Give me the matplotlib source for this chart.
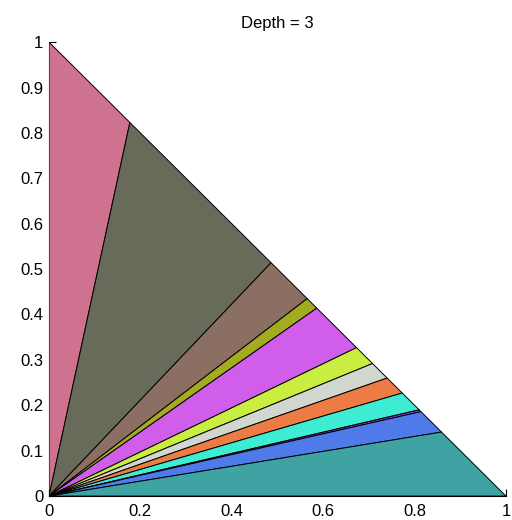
import numpy as np
import matplotlib.pyplot as plt
from matplotlib.patches import Polygon

# x position on the hypotenuse where each wedge ends (y = 1 - x)
split_x = [0.0, 0.177, 0.486, 0.565, 0.586, 0.673, 0.708, 0.740, 0.773, 0.810, 0.814, 0.859, 1.0]
wedge_colors = [
    '#cf728f', '#686a5a', '#8b6f62', '#a3ab1f', '#d05eea', '#c9ee41',
    '#d1d6cf', '#ec7c43', '#3eebd3', '#8c3ce6', '#4f7ae9', '#3ea3a2',
]
xticks = [0, 0.2, 0.4, 0.6, 0.8, 1]
yticks = [0, 0.1, 0.2, 0.3, 0.4, 0.5, 0.6, 0.7, 0.8, 0.9, 1]

plt.rcParams['font.family'] = ['Liberation Sans', 'DejaVu Sans']

fig = plt.figure(figsize=(5.12, 5.2), dpi=100)
ax = fig.add_axes([0.0957, 0.046, 0.8925, 0.873])

# fan of triangles from the origin to consecutive points on the hypotenuse
for i, c in enumerate(wedge_colors):
    x0, x1 = split_x[i], split_x[i + 1]
    tri = Polygon([(0, 0), (x0, 1 - x0), (x1, 1 - x1)], closed=True,
                  facecolor=c, edgecolor='black', linewidth=0.7, zorder=1)
    ax.add_patch(tri)

ax.set_xlim(0, 1)
ax.set_ylim(0, 1)
ax.set_xticks(xticks)
ax.set_xticklabels(['0', '0.2', '0.4', '0.6', '0.8', '1'])
ax.set_yticks(yticks)
ax.set_yticklabels(['0', '0.1', '0.2', '0.3', '0.4', '0.5', '0.6', '0.7', '0.8', '0.9', '1'])
ax.tick_params(direction='in', length=5, width=0.8, labelsize=12)
ax.tick_params(axis='x', pad=6)
ax.tick_params(axis='y', pad=4)
ax.set_axisbelow(True)
for s in ['top', 'right']:
    ax.spines[s].set_visible(False)
for s in ['left', 'bottom']:
    ax.spines[s].set_linewidth(0.8)
    ax.spines[s].set_zorder(0.5)

ax.set_title('Depth = 3', fontsize=12, pad=10)

plt.savefig('out.png', dpi=100)
